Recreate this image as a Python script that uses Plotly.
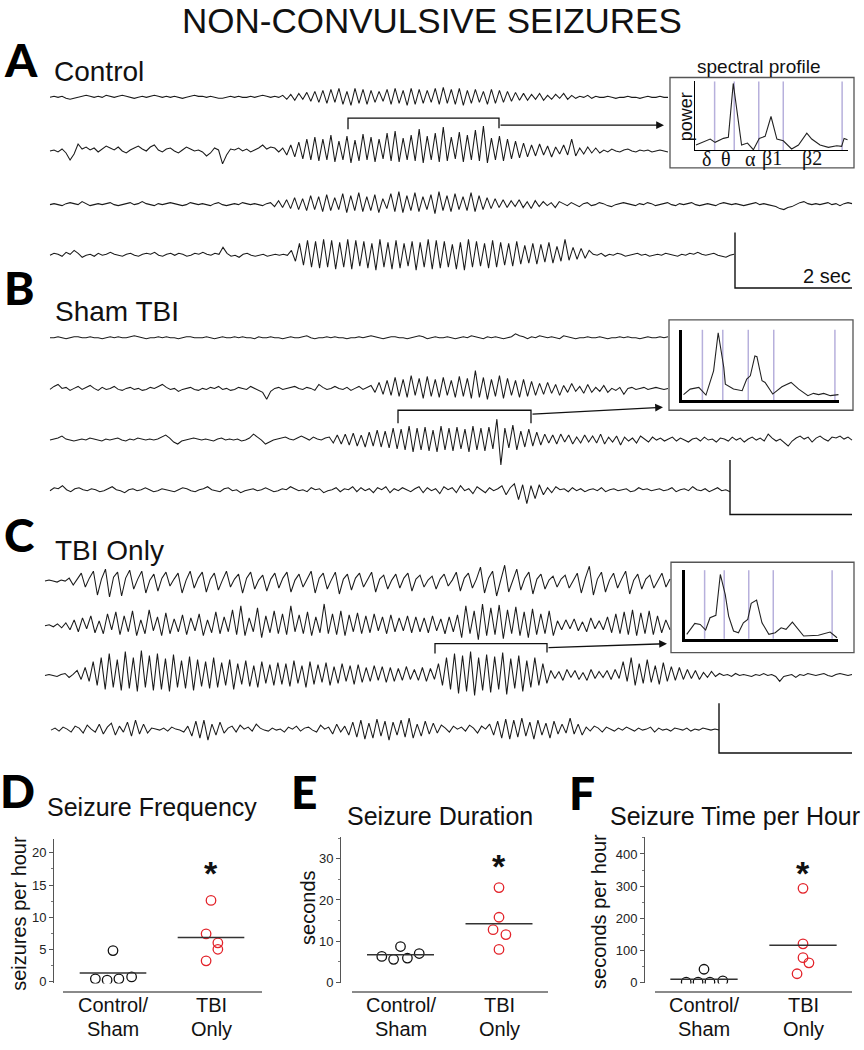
import plotly.graph_objects as go

W, H = 864, 1050
SANS = "Liberation Sans, Arial, sans-serif"
SERIF = "Liberation Serif, Times New Roman, serif"
HEAVY = "Lato, Inter, Liberation Sans, sans-serif"
PX_PER_SEC = 58.5          # horizontal scale of the EEG records (2 s bar = 117 px)

# ------------------------------------------------------------------ EEG samples
# vertical deflection (arbitrary units, positive = up)
A1 = [0,1,0,1,-1,-2,-1,0,1,2,1,0,1,0,2,1,0,1,2,1,0,-1,0,1,0,1,2,1,0,1,0,1,0,-1,0,1,2,1,1,0,1,0,-1,-1,0,1,0,1,0,0,1,0,1,2,1,0,1,0,
      2,-2,3,-3,4,-2,5,-4,6,-5,7,-6,8,-5,9,-7,6,-8,9,-6,8,-7,7,-5,6,-4,8,-7,9,-6,7,-8,9,-7,8,-6,7,-5,9,-7,10,-6,8,-7,9,-8,7,-6,8,-5,6,-7,8,-6,7,-5,6,-4,5,-3,
      4,-3,3,-2,4,-3,2,-2,3,-1,4,-2,2,-1,1,0,2,-1,
      1,0,0,1,0,-1,0,0,1,0,0,-1,0,1,0,0,1,0,0]
A2 = [0,1,-1,2,-2,-9,-3,7,2,4,1,3,-1,2,5,3,1,4,0,-2,1,3,5,2,0,4,6,1,-1,2,3,0,-2,1,4,2,0,1,-1,-5,-2,3,1,-13,-4,2,1,3,0,2,-1,1,3,6,2,4,3,-1,
      3,-4,6,-6,9,-8,12,-9,14,-10,12,-9,16,-11,10,-9,15,-12,11,-10,17,-9,14,-11,12,-8,18,-10,20,-11,13,-9,16,-10,22,-12,15,-9,18,-11,24,-10,14,-8,19,-11,16,-9,21,-10,25,-12,13,-9,15,-10,12,-8,10,-7,
      8,-6,6,-5,7,-4,5,-6,4,-3,6,-4,12,-5,3,-3,4,-2,3,-2,
      1,-1,2,0,-1,1,2,0,-1,1,0,1,-1,0,1,0,-1]
A3 = [0,1,0,-1,1,2,1,0,3,1,-1,0,1,0,1,2,0,-1,0,1,2,0,1,3,1,0,-1,1,0,1,2,1,0,-1,0,2,1,0,1,0,-1,1,2,0,-1,0,1,0,2,1,0,1,0,-1,1,
      2,-2,4,-3,5,-4,7,-5,6,-6,9,-5,8,-7,10,-6,7,-5,11,-8,9,-6,12,-7,8,-6,10,-8,6,-4,11,-7,13,-8,9,-6,12,-7,8,-5,10,-9,13,-6,9,-7,11,-5,8,-6,12,-7,9,-5,7,-4,6,-3,
      5,-3,4,-2,5,-3,3,-4,4,-2,3,-1,2,-3,3,1,-1,2,0,-2,1,2,-1,0,2,1,-1,-2,0,1,2,1,0,-1,1,0,2,1,-1,0,1,2,0,-1,1,0,1,2,0,-1,0,1,0,-1,1,2,1,0,1,0,-1,0,1,2,0,1,0,-1,-2,-4,-5,-3,-2,0,2,3,1,0,1,0,1,2,0,1,-1,1,2,1]
A4 = [0,2,1,-1,3,1,5,2,-2,0,1,-1,2,0,1,3,1,0,-1,1,2,0,-1,1,2,1,3,0,-1,1,2,0,2,1,-1,0,2,1,3,1,0,2,1,8,2,-1,0,-2,1,2,0,-1,0,1,-1,0,1,0,1,0,
      5,-6,12,-10,15,-12,14,-13,16,-12,15,-14,13,-12,16,-14,15,-11,14,-13,12,-15,16,-12,13,-14,15,-13,12,-11,14,-15,13,-12,16,-14,15,-13,14,-12,11,-14,13,-15,16,-12,14,-11,12,-13,15,-12,13,-10,12,-11,14,-9,10,-8,12,-9,11,-7,13,-8,9,-6,16,-5,8,-4,7,-3,5,
      1,0,2,-1,1,0,2,1,-1,0,1,2,0,1,-1,0,1,0,2,1,0,-1,1,0,2,1,3,1,0,1,2,0,-1,-2,0,1]

B1 = [0,0,1,0,-1,0,1,1,0,0,1,0,0,-1,0,1,0,1,0,0,1,2,1,0,-1,0,0,1,0,1,
      0,0,-1,0,1,1,0,0,0,1,0,-1,0,1,0,0,1,0,1,0,0,-1,1,0,0,1,0,0,-1,0,
      1,0,0,1,2,0,-1,0,0,1,0,1,0,0,-1,0,0,1,0,1,2,1,0,-1,0,1,1,0,0,-1,
      0,1,2,1,-1,0,1,0,0,1,0,-1,0,1,0,2,1,0,-1,1,0,1,0,-1,0,1,4,2,1,-1,
      1,0,2,1,0,1,0,-1,2,1,0,-1,0,0,1,0,0,1,0,-1,0,0,1,0,1,0,0,-1,0,1,
      0,0,1,0,1]
B2 = [0,3,5,1,2,-1,1,3,0,2,4,1,-1,2,0,1,3,0,-1,1,2,0,1,-1,0,2,1,3,5,2,0,1,-2,0,1,2,0,-1,1,0,2,1,3,0,1,-1,0,2,1,0,3,1,-1,-3,-10,-2,1,2,0,1,2,3,1,0,2,1,-1,5,2,0,1,3,1,0,2,-1,1,3,0,2,
      4,-3,7,-5,9,-6,12,-7,10,-8,14,-6,11,-9,13,-7,10,-8,12,-6,9,-8,13,-7,11,-9,19,-8,12,-10,10,-7,14,-9,11,-6,9,-8,10,-7,8,-6,
      6,-5,7,-4,5,-6,4,-3,6,-2,3,-4,5,-3,2,-2,4,-3,
      1,-1,2,-5,1,2,0,1,2,0,1,2,1,0,1]
B3 = [0,1,2,4,1,0,-1,0,1,0,2,1,0,-1,1,0,1,2,0,-1,1,0,2,1,0,1,0,1,3,5,2,-2,-4,-1,0,1,2,1,0,1,0,-1,1,2,0,1,0,1,-1,0,2,6,3,0,-4,-2,0,1,2,3,1,0,2,4,2,0,3,1,0,2,
      3,-3,5,-4,6,-5,7,-6,5,-7,8,-6,10,-7,9,-8,12,-9,11,-10,14,-12,12,-10,13,-11,10,-12,14,-10,12,-11,13,-9,11,-12,14,-10,12,-11,13,-9,21,-25,12,-8,15,-10,9,-7,11,-6,8,-5,
      6,-3,5,-4,6,-2,5,-4,3,-3,5,-2,4,-3,6,-4,3,-2,4,-5,3,-1,2,-3,4,1,-2,3,0,2,-1,1,3,-1,2,0,-2,1,2,-1,3,0,1,-2,2,1,-1,3,0,2,-2,1,3,0,2,-1,6,2,-1,1,-3,-6,-1,2,4,1,3,-2,2,4,1,-1,3,2,4,1,3,0]
B4 = [0,3,2,5,1,-1,2,3,1,0,2,1,-1,0,2,4,1,0,-2,1,2,0,1,3,1,-1,0,2,1,0,-1,1,3,2,0,-1,1,2,4,1,0,-1,2,3,0,1,-2,0,1,2,0,1,3,1,-1,0,2,1,4,2,
      0,1,-1,3,1,2,-2,0,1,3,-1,2,1,4,-1,3,0,2,-2,3,1,4,-2,2,0,3,1,-1,2,4,-2,3,0,2,-3,4,1,3,-2,5,0,2,-3,4,1,-2,3,0,2,5,-4,3,7,-9,6,-13,5,-8,
      6,-4,3,-2,4,1,2,-1,3,0,2,-1,1,2,0,3,-1,1,2,0,1,2,-1,0,3,1,2,0,1,2,0,1,3,-1,1,2,0,4,1,0,2,-1,1,3,0,1,-1]

C1 = [0,1,0,-1,1,0,3,-4,2,8,-6,3,10,-14,2,12,-16,4,9,-15,3,11,-8,2,10,-12,1,7,-10,3,9,-5,2,8,-12,1,10,-7,3,9,-11,2,8,-9,1,10,-6,2,7,-12,
      3,9,-8,1,6,-10,2,8,-7,3,9,-11,1,7,-6,2,10,-12,3,8,-8,1,9,-13,2,7,-9,3,8,-6,1,9,-11,2,6,-8,1,7,-7,3,8,-10,2,6,-6,1,5,-8,2,7,-5,1,
      9,-10,3,8,-7,2,14,-12,3,10,-15,2,16,-11,1,12,-9,3,9,-13,2,7,-8,1,5,-6,2,6,-7,1,8,-12,3,15,-14,2,9,-11,1,8,-7,2,10,-13,1,7,-8,2,6,-7,1,8,-6,2]
C2 = [0,1,-1,2,-2,3,-4,6,-6,8,-3,10,-7,5,-8,12,-4,14,-9,10,-6,15,-10,6,-8,16,-5,9,-10,13,-8,7,-6,11,-9,8,-5,12,-10,6,-7,14,-8,9,-6,16,-9,20,-10,8,
      -6,18,-12,10,-7,15,-8,12,-9,20,-6,11,-8,14,-10,9,-7,22,-8,12,-9,15,-10,11,-6,13,-8,10,-7,12,-5,9,-8,11,-6,8,-5,10,-7,9,-6,8,-7,10,-5,7,-8,9,-6,11,
      -12,20,-8,15,-14,22,-10,18,-9,21,-13,16,-8,19,-10,14,-12,17,-9,12,-8,15,-10,5,-4,6,-3,7,-5,4,-6,8,-3,5,-4,9,-7,12,-8,14,-9,16,-10,13,-8,15,-9,10,-7,6,-4]
C3 = [0,1,0,-1,1,2,-2,1,
      5,-4,8,-6,14,-10,18,-14,22,-12,16,-15,24,-13,18,-16,25,-12,20,-15,
      22,-14,17,-16,21,-12,15,-13,19,-15,16,-11,14,-13,18,-12,13,-10,16,-14,12,-9,15,-11,10,-12,14,-8,11,-10,
      13,-9,12,-11,15,-8,10,-12,14,-9,11,-7,13,-10,9,-8,12,-6,10,-9,11,-7,8,-6,10,-5,9,-7,8,-6,7,-5,9,-4,6,-5,8,-6,7,-4,
      12,-10,18,-14,22,-18,20,-16,24,-20,18,-15,21,-17,19,-14,23,-19,17,-13,20,-16,15,-12,18,-10,12,-8,
      5,-3,4,-5,6,-2,5,-4,3,-5,6,-3,4,-2,5,-4,6,-3,
      14,-6,18,-10,12,-8,16,-7,10,-9,13,-6,9,
      -5,8,-4,6,-3,5,-4,3,-2,4,-1,2,
      0,1,-1,2,0,1,0,-1,1,0,2,0,1,-1,-6,-1,0,1,-2,1,0,2,1,0,1,2,0,-1,1,2,1,0,1]
C4 = [0,2,-1,3,1,-2,4,2,-3,5,1,-2,6,-4,3,7,-5,4,-2,8,
      -6,10,-4,6,-3,2,1,0,2,-1,3,1,0,-2,4,-6,9,-8,10,-10,
      6,-5,8,-3,2,4,-2,5,1,3,-1,6,2,0,-1,2,0,1,-2,3,
      1,4,-1,2,3,0,-2,5,1,3,-4,6,-2,4,-5,8,-7,10,-9,7,
      -8,11,-6,9,-10,8,-5,10,-7,12,-8,6,-6,9,-4,7,-3,5,2,-2,
      4,1,3,-1,5,2,-3,4,1,6,-5,9,-8,11,-9,10,-7,12,-6,8,
      -9,10,-5,7,-8,9,-4,6,-3,12,-4,6,-5,3,-1,4,2,-2,3,1,
      -1,2,0,3,1,-1,2,0,1,3,-2,2,0,1,-1,2,1,0,2,-1,
      1,0,2,1,0,1,0]

# placement of each record on the page: (samples, start px, end px, baseline px)
EEG_LAYOUT = [
    (A1, 50, 668, 98), (A2, 50, 668, 152), (A3, 50, 852, 206), (A4, 50, 734, 257),
    (B1, 50, 668, 340), (B2, 50, 668, 392), (B3, 50, 852, 443), (B4, 50, 730, 494),
    (C1, 45, 670, 585), (C2, 45, 670, 630), (C3, 45, 852, 680), (C4, 51, 719, 735),
]

# ------------------------------------------------------------------ spectral profiles
BAND_EDGES_HZ = [4, 8, 13, 18, 30]
SPEC_A_HZ = [0.2, 3.1, 4.1, 5.8, 6.8, 7.8, 9.5, 10.7, 11.9, 13.1, 14.3, 15.5, 16.7, 18.0, 19.7, 21.1, 22.8, 23.8, 25.5, 27.2, 28.9, 29.9, 30.4, 31.1]
SPEC_A_POW = [5, 11, 7.7, 11.7, 12.7, 67, 5, 7, 0.3, 11.7, 13.7, 33.7, 11, 9.3, 1, 5, 17, 11, 5, 2.7, 4.3, 3.7, 11.7, 10.3]
SPEC_B_HZ = [0.3, 1.6, 3.3, 4.7, 6.2, 7.1, 8.2, 8.5, 10.1, 11.8, 12.7, 13.4, 14.3, 14.7, 15.7, 16.3, 17.8, 19.6, 21.4, 22.9, 24.7, 25.8, 26.8, 27.8, 29.1, 30.7]
SPEC_B_POW = [5.7, 11.3, 13, 5.3, 29.7, 68, 33, 16.3, 11.3, 9.7, 21.3, 24.7, 44.7, 44, 19.7, 18, 6.3, 13.7, 18, 11.3, 4.7, 7, 5.7, 7, 4.7, 5.7]
SPEC_C_HZ = [0.35, 2.0, 3.1, 4.2, 5.1, 6.3, 7.2, 8.2, 8.9, 9.9, 10.9, 11.9, 12.8, 13.5, 14.6, 15.7, 17.1, 18.4, 19.6, 20.6, 21.9, 24.2, 27.2, 29.6, 31.0]
SPEC_C_POW = [4.3, 15.3, 14.3, 8.7, 21, 23.4, 64.4, 44.4, 22.7, 7.7, 6, 16, 19.4, 35.4, 38.7, 16, 4.4, 6, 11, 9.4, 16.7, 2.7, 3.4, 6.7, 1]
BAND_LABELS = ["δ", "θ", "α", "β1", "β2"]
BAND_LABEL_HZ = [2.4, 6.3, 11.4, 15.7, 23.9]

# ------------------------------------------------------------------ group data
CATEGORIES = ["Control/Sham", "TBI Only"]
FREQ_CTRL = [0.4, 0.2, 0.4, 0.7, 4.8]
FREQ_TBI = [12.6, 7.4, 6.0, 5.0, 3.2]
DUR_CTRL = [6.3, 5.6, 5.9, 7.0, 8.7]
DUR_TBI = [23.0, 15.8, 12.8, 11.6, 8.0]
TIME_CTRL = [1, 1, 1, 5, 41]
TIME_TBI = [293, 120, 77, 61, 27]

# horizontal scatter of the dots (layout only)
JIT_D = ([-0.18, -0.06, 0.06, 0.19, 0.0], [0.0, -0.05, 0.07, 0.07, -0.05])
JIT_E = ([-0.19, -0.07, 0.07, 0.19, 0.0], [0.0, 0.0, -0.06, 0.07, 0.0])
JIT_F = ([-0.18, -0.06, 0.06, 0.19, 0.0], [0.0, 0.0, 0.0, 0.06, -0.06])

# ------------------------------------------------------------------ helpers
def fx(x):
    return x / W

def fy(y):
    return 1 - y / H

fig = go.Figure()
annotations = []
shapes = []

def add_text(x, y, s, size, xanchor="left", yanchor="middle", family=SANS, color="#111",
             angle=0, weight=None, xref="paper"):
    font = dict(family=family, size=size, color=color)
    if weight:
        font["weight"] = weight
    annotations.append(dict(x=fx(x) if xref == "paper" else x, y=fy(y), xref=xref, yref="paper",
                            text=s, showarrow=False, xanchor=xanchor, yanchor=yanchor,
                            textangle=angle, font=font))

def add_path(points, color="#111", width=1.3, layer="above"):
    d = "M " + " L ".join(f"{fx(x):.5f},{fy(y):.5f}" for x, y in points)
    shapes.append(dict(type="path", xref="paper", yref="paper", path=d,
                       line=dict(color=color, width=width), layer=layer))

# ------------------------------------------------------------------ EEG records (x / y axis)
for samples, x0, x1, base in EEG_LAYOUT:
    n = len(samples)
    dur = (x1 - x0) / PX_PER_SEC
    t = [x0 / PX_PER_SEC + dur * i / (n - 1) for i in range(n)]
    yy = [base - v for v in samples]
    fig.add_trace(go.Scatter(x=t, y=yy, mode="lines", xaxis="x", yaxis="y",
                             line=dict(color="#1a1a1a", width=1.05), hoverinfo="skip"))

layout_axes = dict(
    xaxis=dict(domain=[0, 1], range=[0, W / PX_PER_SEC], visible=False),
    yaxis=dict(domain=[0, 1], range=[H, 0], visible=False),
)

# ------------------------------------------------------------------ spectral insets
insets = [
    # axis id, Hz, power, x-axis px span, y-axis px span (bottom, top), Hz range, power range, axis width, box
    ("2", SPEC_A_HZ, SPEC_A_POW, (695, 848), (151, 82), 31.2, 69, 1.4, (670, 78, 854, 169)),
    ("3", SPEC_B_HZ, SPEC_B_POW, (682, 839), (403, 332), 30.8, 71, 3.0, (669, 322, 853, 413)),
    ("4", SPEC_C_HZ, SPEC_C_POW, (685, 838), (643, 574), 31.2, 68.7, 3.0, (671, 566, 854, 657)),
]
for aid, hz, pw, (xa, xb), (yb, yt), hzmax, pmax, lw, box in insets:
    bx0, by0, bx1, by1 = box
    shapes.append(dict(type="rect", xref="paper", yref="paper", x0=fx(bx0), y0=fy(by1),
                       x1=fx(bx1), y1=fy(by0), line=dict(color="#555", width=1.3),
                       fillcolor="white", layer="below"))
    for e in BAND_EDGES_HZ:
        shapes.append(dict(type="line", xref="x" + aid, yref="y" + aid + " domain", x0=e, x1=e,
                           y0=0, y1=1, line=dict(color="#b7b0dc", width=1.5), layer="below"))
    fig.add_trace(go.Scatter(x=hz, y=pw, mode="lines", xaxis="x" + aid, yaxis="y" + aid,
                             line=dict(color="#222", width=1.1), hoverinfo="skip"))
    layout_axes["xaxis" + aid] = dict(domain=[fx(xa), fx(xb)], range=[0, hzmax], anchor="y" + aid,
                                      showline=True, linecolor="black", linewidth=lw, ticks="",
                                      showticklabels=False, showgrid=False, zeroline=False)
    layout_axes["yaxis" + aid] = dict(domain=[fy(yb), fy(yt)], range=[0, pmax], anchor="x" + aid,
                                      showline=True, linecolor="black", linewidth=lw, ticks="",
                                      showticklabels=False, showgrid=False, zeroline=False)

for lab, hz in zip(BAND_LABELS, BAND_LABEL_HZ):
    annotations.append(dict(x=hz, y=fy(160), xref="x2", yref="paper", text=lab, showarrow=False,
                            xanchor="center", yanchor="middle",
                            font=dict(family=SERIF, size=20, color="#111")))
add_text(686, 118, "power", 18, xanchor="center", angle=-90)
add_text(759, 67, "spectral profile", 19, xanchor="center")

# ------------------------------------------------------------------ brackets, arrows, scale bars
add_path([(348, 130), (348, 119), (499, 119), (499, 129)])
add_path([(398, 426), (398, 413), (531, 413), (531, 426)])
add_path([(435, 658), (435, 648), (547, 648), (547, 657)])
for (hx, hy, tx, ty) in [(664, 126, 499, 126), (663, 410, 531, 417), (667, 648, 547, 652)]:
    annotations.append(dict(x=fx(hx), y=fy(hy), xref="paper", yref="paper", ax=tx - hx, ay=ty - hy,
                            axref="pixel", ayref="pixel", text="", showarrow=True, arrowhead=2,
                            arrowsize=1.2, arrowwidth=1.3, arrowcolor="#111", standoff=0))
add_path([(735, 234), (735, 290), (852, 290)], width=1.4)
add_path([(730, 463), (730, 518), (852, 518)], width=1.4)
add_path([(719, 708), (719, 758), (852, 758)], width=1.4)
add_text(853, 278, "2 sec", 20, xanchor="right")

# ------------------------------------------------------------------ headings
add_text(432, 21, "NON-CONVULSIVE SEIZURES", 35, xanchor="center")
for letter, x, y in [("A", 21, 60), ("B", 19, 289), ("C", 19, 538), ("D", 17, 796), ("E", 304, 797), ("F", 582, 798)]:
    add_text(x, y, letter, 46, xanchor="center", family=HEAVY, color="black", weight=900)
add_text(52, 72, "Control", 28)
add_text(53, 314, "Sham TBI", 28)
add_text(53, 554, "TBI Only", 28)

# ------------------------------------------------------------------ group panels D, E, F
panels = [
    dict(aid="5", ctrl=FREQ_CTRL, tbi=FREQ_TBI, jit=JIT_D, xdom=(63, 262), yline=53, cats=(113, 211),
         ydom=(845, 990), zero=988, ppu=6.47, dtick=5, minor=2.5, tickmax=20,
         ytitle="seizures per hour", ytpos=(19, 920), title="Seizure Frequency", tpos=(45, 812),
         xline=999, star=870),
    dict(aid="6", ctrl=DUR_CTRL, tbi=DUR_TBI, jit=JIT_E, xdom=(352, 548), yline=340, cats=(400.5, 499),
         ydom=(843, 990), zero=989, ppu=4.15, dtick=10, minor=5, tickmax=30,
         ytitle="seconds", ytpos=(308, 914), title="Seizure Duration", tpos=(345, 821),
         xline=999, star=863),
    dict(aid="7", ctrl=TIME_CTRL, tbi=TIME_TBI, jit=JIT_F, xdom=(655, 852), yline=644, cats=(704, 803),
         ydom=(843, 990), zero=989, ppu=0.3233, dtick=100, minor=50, tickmax=400,
         ytitle="seconds per hour", ytpos=(599, 918), title="Seizure Time per Hour", tpos=(608, 821),
         xline=999, star=870),
]
for p in panels:
    aid = p["aid"]
    c1, c2 = p["cats"]
    sp = c2 - c1
    xr = [1 - (c1 - p["xdom"][0]) / sp, 2 + (p["xdom"][1] - c2) / sp]
    yr = [(p["zero"] - p["ydom"][1]) / p["ppu"], (p["zero"] - p["ydom"][0]) / p["ppu"]]
    for ci, (vals, jit, col) in enumerate([(p["ctrl"], p["jit"][0], "#111"), (p["tbi"], p["jit"][1], "#e3242b")]):
        cx = ci + 1
        fig.add_trace(go.Scatter(x=[cx + j for j in jit], y=vals, mode="markers",
                                 xaxis="x" + aid, yaxis="y" + aid,
                                 marker=dict(symbol="circle-open", size=9.5, color=col, line=dict(width=1.3)),
                                 hoverinfo="skip"))
        m = sum(vals) / len(vals)
        fig.add_trace(go.Scatter(x=[cx - 0.34, cx + 0.34], y=[m, m], mode="lines",
                                 xaxis="x" + aid, yaxis="y" + aid,
                                 line=dict(color="#333", width=1.6), hoverinfo="skip"))
    layout_axes["xaxis" + aid] = dict(domain=[fx(p["xdom"][0]), fx(p["xdom"][1])], range=xr,
                                      anchor="free", position=fy(p["xline"]), showline=True,
                                      linecolor="#8a8a8a", linewidth=1.5, ticks="", showticklabels=False,
                                      showgrid=False, zeroline=False)
    layout_axes["yaxis" + aid] = dict(domain=[fy(p["ydom"][1]), fy(p["ydom"][0])], range=yr,
                                      anchor="free", position=fx(p["yline"]), showline=True,
                                      linecolor="#555", linewidth=1, ticks="outside", ticklen=4,
                                      tickcolor="#555", tickwidth=1,
                                      tickvals=list(range(0, p["tickmax"] + 1, p["dtick"])),
                                      tickfont=dict(family=SANS, size=13, color="#222"),
                                      minor=dict(ticks="outside", ticklen=2, dtick=p["minor"], tickcolor="#777"),
                                      showgrid=False, zeroline=False)
    add_text(p["tpos"][0], p["tpos"][1], p["title"], 25)
    add_text(p["ytpos"][0], p["ytpos"][1], p["ytitle"], 20, xanchor="center", angle=-90)
    for cx, (l1, l2) in zip([1, 2], [("Control/", "Sham"), ("TBI", "Only")]):
        add_text(cx, 1012, l1, 20, xanchor="center", xref="x" + aid)
        add_text(cx, 1036, l2, 20, xanchor="center", xref="x" + aid)
    annotations.append(dict(x=2, y=fy(p["star"] + 9), xref="x" + aid, yref="paper", text="*",
                            showarrow=False, xanchor="center", yanchor="middle",
                            font=dict(family=SANS, size=34, color="#111", weight=700)))

fig.update_layout(
    width=W, height=H, margin=dict(l=0, r=0, t=0, b=0),
    paper_bgcolor="white", plot_bgcolor="rgba(0,0,0,0)", showlegend=False,
    annotations=annotations, shapes=shapes, **layout_axes,
)

fig.write_html("out.html", config={"displayModeBar": False},
               post_script="document.body.style.margin='0';")
